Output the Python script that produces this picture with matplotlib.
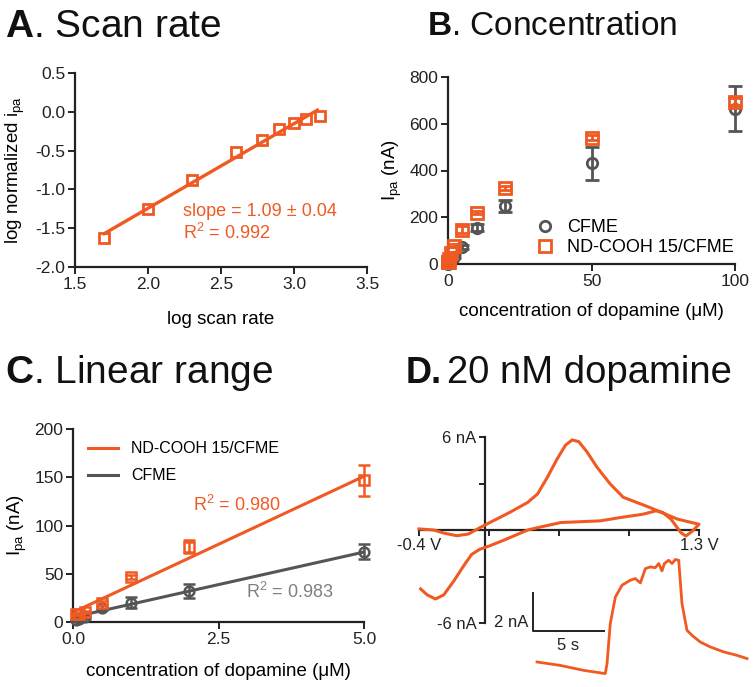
import numpy as np
import matplotlib
matplotlib.use("Agg")
import matplotlib.pyplot as plt

plt.rcParams['font.family'] = ['Liberation Sans', 'DejaVu Sans']
plt.rcParams['mathtext.fontset'] = 'custom'
plt.rcParams['mathtext.rm'] = 'Liberation Sans'
plt.rcParams['mathtext.it'] = 'Liberation Sans:italic'
plt.rcParams['mathtext.bf'] = 'Liberation Sans:bold'
plt.rcParams['axes.unicode_minus'] = False

ORANGE = '#F05A22'
GREY = '#555555'
GREY_TXT = '#808080'

# ---------------- data ----------------
# A: scan rate
logscan = [1.70, 2.00, 2.30, 2.60, 2.78, 2.90, 3.00, 3.08, 3.18]
logipa = [-1.63, -1.25, -0.88, -0.52, -0.36, -0.22, -0.14, -0.09, -0.05]
fitA_slope = 1.09
fitA_intercept = -3.423
fitA_range = [1.70, 3.16]

# B/C: concentration (uM)
conc = [0.05, 0.1, 0.2, 0.5, 1, 2, 5, 10, 20, 50, 100]
cfme_mean = [2, 3, 5, 15, 20, 32, 73, 155, 248, 430, 665]
cfme_err = [1, 1, 2, 3, 6, 7, 8, 15, 25, 72, 98]
nd_mean = [8, 8.5, 10, 20, 47, 78, 147, 220, 325, 540, 695]
nd_err = [1, 1, 1, 2, 2, 7, 16, 8, 10, 10, 15]

# C: linear fits
fitC_nd = (28.2, 10.0)    # slope, intercept
fitC_cfme = (13.5, 5.0)
fitC_range = [0.05, 5.0]

# D: cyclic voltammogram (V, nA)
cv_fwd_v = [-0.40, -0.31, -0.25, -0.17, -0.10, -0.03, 0.03, 0.15, 0.26, 0.32, 0.38, 0.44,
            0.49, 0.53, 0.57, 0.62, 0.68, 0.76, 0.84, 1.00, 1.06, 1.17, 1.30]
cv_fwd_i = [0.07, 0.0, -0.20, -0.37, -0.26, 0.15, 0.48, 1.13, 1.78, 2.33, 3.41, 4.61,
            5.48, 5.81, 5.70, 5.04, 4.06, 2.98, 2.11, 1.46, 1.19, 0.70, 0.37]
cv_rev_v = [1.30, 1.26, 1.22, 1.19, 1.13, 1.08, 1.04, 0.96, 0.82, 0.70, 0.46, 0.32, 0.26,
            0.13, 0.03, -0.03, -0.08, -0.13, -0.19, -0.25, -0.30, -0.35, -0.39]
cv_rev_i = [0.37, -0.07, -0.39, -0.17, 0.70, 1.13, 1.24, 1.02, 0.80, 0.59, 0.48, 0.15, 0.0,
            -0.59, -1.02, -1.24, -1.57, -2.33, -3.31, -4.19, -4.45, -4.19, -3.80]

# D: current vs time trace (s, nA)
trace_t = [0.00, 1.64, 3.29, 4.81, 4.93, 5.16, 5.52, 5.99, 6.57, 6.92, 7.28, 7.63, 7.98,
           8.33, 8.57, 8.80, 8.97, 9.27, 9.51, 9.74, 9.98, 10.21, 10.56, 10.92, 11.50,
           12.21, 13.15, 14.08, 14.79]
trace_i = [0.00, -0.18, -0.44, -0.61, -0.09, 2.02, 3.42, 4.04, 4.30, 4.39, 4.16, 4.91,
           5.00, 4.96, 5.18, 4.79, 5.18, 5.35, 5.18, 5.39, 5.35, 3.07, 1.67, 1.40, 1.05,
           0.79, 0.53, 0.35, 0.18]

# ---------------- figure ----------------
fig = plt.figure(figsize=(7.55, 6.87), dpi=100)
W, H = 755, 687

def ax_px(x0, x1, y0, y1):
    return fig.add_axes([x0 / W, 1 - y1 / H, (x1 - x0) / W, (y1 - y0) / H])

def style(ax, fs=12.5):
    for s in ['top', 'right']:
        ax.spines[s].set_visible(False)
    for s in ['left', 'bottom']:
        ax.spines[s].set_linewidth(1.6)
        ax.spines[s].set_color('#222222')
    ax.tick_params(direction='out', length=5, width=1.4, labelsize=fs, colors='#222222', pad=2)
    ax.patch.set_alpha(0)

# Titles
fig.text(5 / W, 1 - 37 / H, r'$\mathbf{A}$. Scan rate', fontsize=28, va='baseline', color='#111111')
fig.text(427 / W, 1 - 35 / H, r'$\mathbf{B}$. Concentration', fontsize=24, va='baseline', color='#111111')
fig.text(5 / W, 1 - 383 / H, r'$\mathbf{C}$. Linear range', fontsize=28, va='baseline', color='#111111')
fig.text(406 / W, 1 - 383 / H, 'D.', fontsize=26, fontweight='bold', va='baseline', color='#111111')
fig.text(447 / W, 1 - 383 / H, '20 nM dopamine', fontsize=27.5, va='baseline', color='#111111')

# ---------- A ----------
axA = ax_px(75, 367, 73, 267)
style(axA)
fx = np.array(fitA_range)
axA.plot(fx, fitA_slope * fx + fitA_intercept, color=ORANGE, lw=2.4, zorder=2)
axA.plot(logscan, logipa, 's', mfc='none', mec=ORANGE, mew=2.0, ms=6.8, zorder=3, clip_on=False)
axA.set_xlim(1.5, 3.5)
axA.set_ylim(-2.0, 0.5)
axA.set_xticks([1.5, 2.0, 2.5, 3.0, 3.5])
axA.set_yticks([-2.0, -1.5, -1.0, -0.5, 0.0, 0.5])
axA.set_xticklabels(['1.5', '2.0', '2.5', '3.0', '3.5'])
axA.set_yticklabels(['-2.0', '-1.5', '-1.0', '-0.5', '0.0', '0.5'])
axA.set_xlabel('log scan rate', fontsize=13.5, labelpad=14)
axA.set_ylabel(r'log normalized i$_{\mathregular{pa}}$', fontsize=13.5, labelpad=6)
axA.text(2.24, -1.28, u'slope = 1.09 \u00b1 0.04', color=ORANGE, fontsize=13, va='center')
axA.text(2.24, -1.56, r'R$^{2}$ = 0.992', color=ORANGE, fontsize=13, va='center')

# ---------- B ----------
axB = ax_px(448, 735, 77, 264)
style(axB)
axB.errorbar(conc, cfme_mean, yerr=cfme_err, fmt='o', mfc='none', mec=GREY, mew=2.0, ms=7.5,
             ecolor=GREY, elinewidth=2, capsize=5, capthick=2, label='CFME', clip_on=False, zorder=3)
axB.errorbar(conc, nd_mean, yerr=nd_err, fmt='s', mfc='none', mec=ORANGE, mew=2.0, ms=8,
             ecolor=ORANGE, elinewidth=2, capsize=5, capthick=2, label='ND-COOH 15/CFME',
             clip_on=False, zorder=4)
axB.set_xlim(0, 100)
axB.set_ylim(0, 800)
axB.set_xticks([0, 50, 100])
axB.set_yticks([0, 200, 400, 600, 800])
axB.set_xlabel(u'concentration of dopamine (\u03bcM)', fontsize=13.5, labelpad=10)
axB.set_ylabel(r'I$_{\mathregular{pa}}$ (nA)', fontsize=13.5, labelpad=4)
hB, lB = axB.get_legend_handles_labels()
hB = [h[0] for h in hB]
axB.legend(hB, lB, loc='upper left', bbox_to_anchor=(0.25, 0.28), frameon=False,
           fontsize=13, handletextpad=0.2, labelspacing=0.2, borderaxespad=0)

# ---------- C ----------
axC = ax_px(73, 364, 429, 622)
style(axC)
cmask = [c <= 5 for c in conc]
cc = [c for c, m in zip(conc, cmask) if m]
fxc = np.array(fitC_range)
axC.plot(fxc, fitC_nd[0] * fxc + fitC_nd[1], color=ORANGE, lw=2.2, label='ND-COOH 15/CFME', zorder=2)
axC.plot(fxc, fitC_cfme[0] * fxc + fitC_cfme[1], color=GREY, lw=2.2, label='CFME', zorder=2)
axC.errorbar(cc, [v for v, m in zip(cfme_mean, cmask) if m], yerr=[v for v, m in zip(cfme_err, cmask) if m],
             fmt='o', mfc='none', mec=GREY, mew=1.8, ms=7, ecolor=GREY, elinewidth=1.8,
             capsize=4, capthick=1.8, clip_on=False, zorder=3)
axC.errorbar(cc, [v for v, m in zip(nd_mean, cmask) if m], yerr=[v for v, m in zip(nd_err, cmask) if m],
             fmt='s', mfc='none', mec=ORANGE, mew=1.8, ms=7.5, ecolor=ORANGE, elinewidth=1.8,
             capsize=4, capthick=1.8, clip_on=False, zorder=4)
axC.set_xlim(0, 5)
axC.set_ylim(0, 200)
axC.set_xticks([0, 2.5, 5.0])
axC.set_xticklabels(['0.0', '2.5', '5.0'])
axC.set_yticks([0, 50, 100, 150, 200])
axC.set_xlabel(u'concentration of dopamine (\u03bcM)', fontsize=13.5, labelpad=12)
axC.set_ylabel(r'I$_{\mathregular{pa}}$ (nA)', fontsize=13.5, labelpad=4)
axC.legend(loc='upper left', bbox_to_anchor=(0.03, 0.97), frameon=False, fontsize=11.5,
           handlelength=1.9, handletextpad=0.8, labelspacing=0.75, borderaxespad=0)
axC.text(2.06, 121, r'R$^{2}$ = 0.980', color=ORANGE, fontsize=13, va='center')
axC.text(2.97, 31, r'R$^{2}$ = 0.983', color=GREY_TXT, fontsize=13, va='center')

# ---------- D ----------
axD = ax_px(419, 699, 437, 623)
axD.patch.set_alpha(0)
for s in ['top', 'right']:
    axD.spines[s].set_visible(False)
axD.spines['left'].set_position(('data', 0))
axD.spines['bottom'].set_position(('data', 0))
for s in ['left', 'bottom']:
    axD.spines[s].set_linewidth(1.6)
    axD.spines[s].set_color('#222222')
axD.set_xlim(-0.4, 1.3)
axD.set_ylim(-6, 6)
axD.set_xticks(np.linspace(-0.4, 1.3, 5))
axD.set_xticklabels(['-0.4 V', '', '', '', '1.3 V'])
axD.set_yticks([-6, -3, 0, 3, 6])
axD.set_yticklabels(['-6 nA', '', '', '', '6 nA'])
axD.tick_params(direction='out', length=4, width=1.4, labelsize=12, colors='#222222', pad=2)
axD.plot(cv_fwd_v + cv_rev_v, cv_fwd_i + cv_rev_i, color=ORANGE, lw=2.2, clip_on=False,
         solid_joinstyle='round', zorder=3)

# time trace inset
axT = ax_px(530, 750, 550, 680)
axT.axis('off')
axT.set_xlim(-0.493, 15.0)
axT.set_ylim(-0.947, 5.89)
axT.plot(trace_t, trace_i, color=ORANGE, lw=2.0, clip_on=False, solid_joinstyle='round')
sb_t0, sb_i0 = -0.28, 1.61
axT.plot([sb_t0, sb_t0, sb_t0 + 5], [sb_i0 + 2, sb_i0, sb_i0], color='#222222', lw=1.4, clip_on=False)
axT.text(sb_t0 - 0.35, sb_i0 + 0.45, '2 nA', ha='right', va='center', fontsize=12, color='#222222')
axT.text(sb_t0 + 2.5, sb_i0 - 0.35, '5 s', ha='center', va='top', fontsize=12, color='#222222')

fig.savefig('out.png', dpi=100, facecolor='white')
